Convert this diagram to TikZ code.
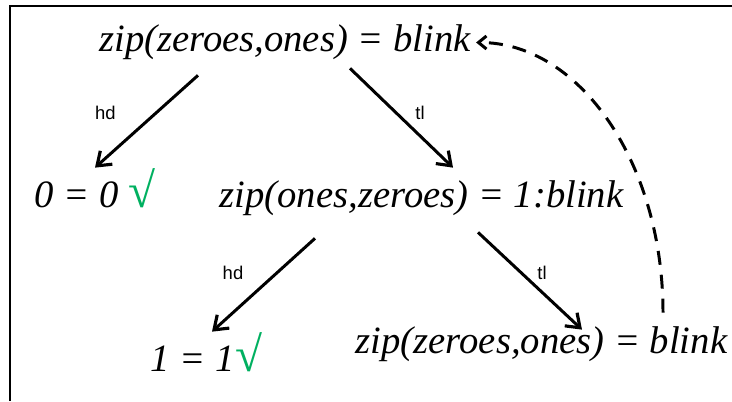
\documentclass[tikz,border=0pt]{standalone}
\usepackage{fontspec}
\setmainfont{Liberation Serif}
\newfontfamily\labelfont{Liberation Sans}
\usepackage{xcolor}
\usepackage{tikz}
\usetikzlibrary{
  arrows.meta,
  positioning,
  calc
}
\definecolor{tickgreen}{RGB}{0, 176, 96}
\newcommand{\tick}{\textcolor{tickgreen}{\fontsize{28}{30}\selectfont √}}

\begin{document}
\begin{tikzpicture}[
    term/.style={inner sep=0pt, anchor=base, text height=0.56cm, text depth=0.18cm,
      font=\fontsize{22}{26}\selectfont\itshape},
    edge/.style={line width=1.7pt, -{Straight Barb[length=2.5mm, width=3.6mm, line width=1.8pt]}},
    back/.style={line width=1.7pt, dash pattern=on 0.28cm off 0.2cm,
      -{Straight Barb[length=1.6mm, width=2.6mm, line width=1.7pt]}},
    lbl/.style={font=\labelfont\fontsize{10.5}{12}\selectfont, inner sep=0pt}
  ]
  \useasboundingbox (0,0) rectangle (14.64,8.02);
  \draw[line width=1.1pt] (0.2,0) -- (0.2,7.9) -- (14.64,7.9);

  \node[term] (root) at (5.7, 6.98) {zip(zeroes,ones) = blink};
  \node[term] (zero) at (1.9, 3.88) {0 = 0 \tick};
  \node[term] (mid) at (8.43, 3.88) {zip(ones,zeroes) = 1:blink};
  \node[term] (one) at (4.13, 0.6) {1 = 1\tick};
  \node[term] (bottom) at (10.83, 0.96) {zip(zeroes,ones) = blink};

  \draw[edge] ([shift={(-1.74,-0.28)}]root.south) -- ([shift={(0,0.22)}]zero.north)
    node[lbl, midway, xshift=-0.82cm, yshift=0.18cm] {hd};
  \draw[edge] ([shift={(1.3,-0.14)}]root.south) -- ([shift={(0.63,0.22)}]mid.north)
    node[lbl, midway, xshift=0.37cm, yshift=0.1cm] {tl};
  \draw[edge] ([shift={(-2.13,-0.44)}]mid.south) -- ([shift={(0.11,0.22)}]one.north)
    node[lbl, midway, xshift=-0.61cm, yshift=0.24cm] {hd};
  \draw[edge] ([shift={(1.13,-0.32)}]mid.south) -- ([shift={(0.81,-0.1)}]bottom.north)
    node[lbl, midway, xshift=0.24cm, yshift=0.16cm] {tl};

  % back to the start
  \draw[back] ([shift={(2.43,0.24)}]bottom.north) .. controls +(0,2.98) and +(2.08,0) .. ([xshift=0.1cm]root.east);
\end{tikzpicture}
\end{document}
